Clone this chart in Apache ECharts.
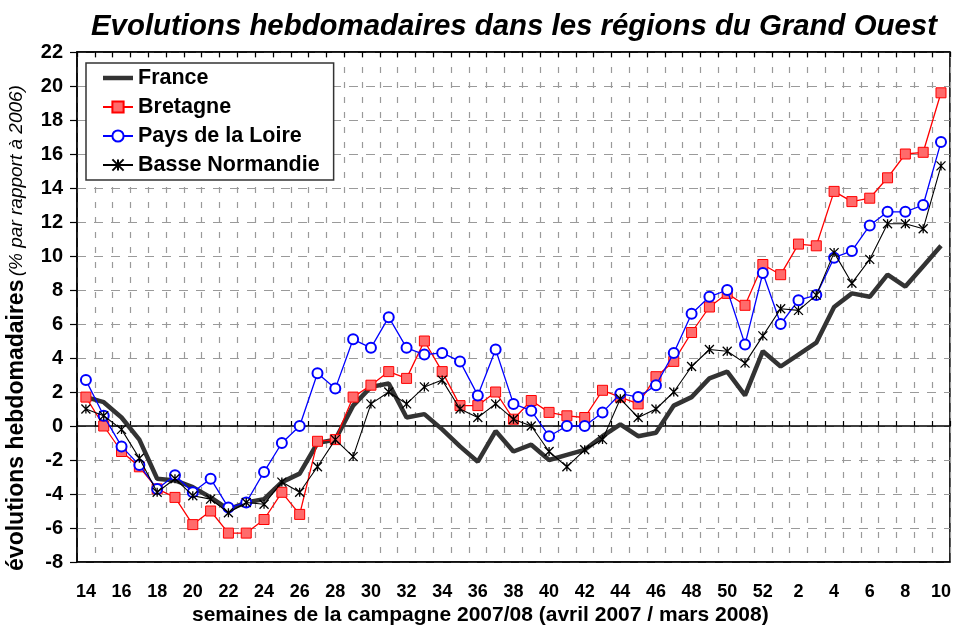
<!DOCTYPE html>
<html>
<head>
<meta charset="utf-8">
<script src="https://cdn.jsdelivr.net/npm/echarts@6/dist/echarts.min.js"></script>
<style>
  html, body { margin: 0; padding: 0; background: #fff; }
  #chart { width: 954px; height: 628px; }
</style>
</head>
<body>
<div id="chart"></div>
<script>
// semaines 14..52 (2007) puis 1..10 (2008)
const semaines = ['14','15','16','17','18','19','20','21','22','23','24','25','26','27','28','29','30','31','32','33','34','35','36','37','38','39','40','41','42','43','44','45','46','47','48','49','50','51','52','1','2','3','4','5','6','7','8','9','10'];

const france = [1.7, 1.4, 0.5, -0.8, -3.1, -3.2, -3.6, -4.2, -4.9, -4.5, -4.3, -3.3, -2.8, -1.0, -0.8, 1.2, 2.3, 2.5, 0.5, 0.7, -0.2, -1.2, -2.1, -0.3, -1.5, -1.1, -2.0, -1.7, -1.4, -0.6, 0.1, -0.6, -0.4, 1.2, 1.7, 2.8, 3.2, 1.8, 4.4, 3.5, 4.2, 4.9, 7.0, 7.8, 7.6, 8.9, 8.2, 9.4, 10.6];
const bretagne = [1.7, 0.0, -1.5, -2.4, -3.7, -4.2, -5.8, -5.0, -6.3, -6.3, -5.5, -3.9, -5.2, -0.9, -0.8, 1.7, 2.4, 3.2, 2.8, 5.0, 3.2, 1.2, 1.2, 2.0, 0.4, 1.5, 0.8, 0.6, 0.5, 2.1, 1.7, 1.3, 2.9, 3.8, 5.5, 7.0, 7.8, 7.1, 9.5, 8.9, 10.7, 10.6, 13.8, 13.2, 13.4, 14.6, 16.0, 16.1, 19.6];
const paysLoire = [2.7, 0.6, -1.2, -2.3, -3.7, -2.9, -3.9, -3.1, -4.8, -4.5, -2.7, -1.0, 0.0, 3.1, 2.2, 5.1, 4.6, 6.4, 4.6, 4.2, 4.3, 3.8, 1.8, 4.5, 1.3, 0.9, -0.6, 0.0, 0.0, 0.8, 1.9, 1.7, 2.4, 4.3, 6.6, 7.6, 8.0, 4.8, 9.0, 6.0, 7.4, 7.7, 9.9, 10.3, 11.8, 12.6, 12.6, 13.0, 16.7];
const basseNormandie = [1.0, 0.6, -0.2, -1.9, -3.9, -3.1, -4.1, -4.3, -5.1, -4.5, -4.6, -3.3, -3.9, -2.4, -0.8, -1.8, 1.3, 2.0, 1.3, 2.3, 2.7, 1.0, 0.5, 1.3, 0.4, 0.0, -1.5, -2.4, -1.4, -0.8, 1.6, 0.5, 1.0, 2.0, 3.5, 4.5, 4.4, 3.7, 5.3, 6.9, 6.8, 7.7, 10.2, 8.4, 9.8, 11.9, 11.9, 11.6, 15.3];

const police = '"Liberation Sans", Arial, sans-serif';
const grilleV = { show: true, lineStyle: { color: '#9a9a9a', width: 1.2, type: [6, 9] } };
const grilleH = { show: true, lineStyle: { color: '#9a9a9a', width: 1.2, type: [9, 8] } };

const chartDom = document.getElementById('chart');
const myChart = echarts.init(chartDom);

const option = {
  animation: false,
  backgroundColor: '#fff',
  title: [
    {
      text: 'Evolutions hebdomadaires dans les régions du Grand Ouest',
      left: 91, top: 12, padding: 0,
      textStyle: { fontFamily: police, fontSize: 29.4, fontWeight: 'bold', fontStyle: 'italic', color: '#000' }
    },
    {
      text: 'semaines de la campagne 2007/08 (avril 2007 / mars 2008)',
      left: 192, top: 605, padding: 0,
      textStyle: { fontFamily: police, fontSize: 21, fontWeight: 'bold', color: '#000' }
    }
  ],
  graphic: [{
    type: 'text',
    x: 17, y: 328,
    rotation: Math.PI / 2,
    style: {
      text: '{b|évolutions hebdomadaires} {i|(% par rapport à 2006)}',
      align: 'center',
      verticalAlign: 'middle',
      rich: {
        b: { fontFamily: police, fontSize: 23, fontWeight: 'bold', fill: '#000' },
        i: { fontFamily: police, fontSize: 19, fontStyle: 'italic', fill: '#000' }
      }
    }
  }],
  legend: {
    orient: 'vertical',
    left: 86, top: 63,
    padding: [4, 14, 4, 16],
    itemWidth: 30, itemHeight: 14, itemGap: 7,
    backgroundColor: '#fff',
    borderColor: '#333', borderWidth: 1.5,
    textStyle: { fontFamily: police, fontSize: 21.5, lineHeight: 20, fontWeight: 'bold', color: '#000' },
    data: [
      { name: 'France', icon: 'path://M0,0L30,0L30,4.5L0,4.5Z', itemStyle: { color: '#333' } },
      'Bretagne', 'Pays de la Loire', 'Basse Normandie'
    ]
  },
  grid: {
    left: 77, right: 4, top: 52, bottom: 66,
    show: true, borderColor: '#000', borderWidth: 1.5
  },
  xAxis: [
    {
      type: 'category', data: semaines, boundaryGap: true, position: 'bottom',
      axisLine: { onZero: false, lineStyle: { color: '#000', width: 1.5 } },
      axisTick: { show: false },
      axisLabel: { interval: 1, margin: 21, color: '#000', fontFamily: police, fontSize: 18, fontWeight: 'bold' },
      splitLine: Object.assign({ interval: 0 }, grilleV)
    },
    {
      type: 'category', data: semaines, boundaryGap: true,
      axisLine: { onZero: true, lineStyle: { color: '#000', width: 1.5 } },
      axisTick: { show: true, interval: 0, length: 5, lineStyle: { color: '#000', width: 1.2 } },
      axisLabel: { show: false }, splitLine: { show: false }
    },
    {
      type: 'category', data: semaines, boundaryGap: true,
      axisLine: { onZero: true, lineStyle: { color: '#000', width: 1.5 } },
      axisTick: { show: true, inside: true, interval: 0, length: 5, lineStyle: { color: '#000', width: 1.2 } },
      axisLabel: { show: false }, splitLine: { show: false }
    }
  ],
  yAxis: {
    type: 'value', min: -8, max: 22, interval: 2,
    axisLine: { show: true, lineStyle: { color: '#000', width: 1.5 } },
    axisTick: { show: true, length: 7, lineStyle: { color: '#000', width: 1.2 } },
    axisLabel: { margin: 14, color: '#000', fontFamily: police, fontSize: 20, fontWeight: 'bold' },
    splitLine: grilleH
  },
  series: [
    {
      name: 'France', type: 'line', data: france, xAxisIndex: 0,
      symbol: 'none', color: '#333',
      lineStyle: { color: '#333', width: 4.5 }, z: 3
    },
    {
      name: 'Bretagne', type: 'line', data: bretagne, xAxisIndex: 0,
      symbol: 'rect', symbolSize: 10, color: '#ff0000',
      itemStyle: { color: '#ff6b6b', borderColor: '#ff0000', borderWidth: 1 },
      lineStyle: { color: '#ff0000', width: 1.3 }, z: 4
    },
    {
      name: 'Pays de la Loire', type: 'line', data: paysLoire, xAxisIndex: 0,
      symbol: 'emptyCircle', symbolSize: 10, color: '#0000ff',
      itemStyle: { color: '#0000ff', borderColor: '#0000ff', borderWidth: 1.3 },
      lineStyle: { color: '#0000ff', width: 1.3 }, z: 5
    },
    {
      name: 'Basse Normandie', type: 'line', data: basseNormandie, xAxisIndex: 0,
      symbol: 'path://M0,0L10,10M10,0L0,10M5,0L5,10', symbolSize: 9, color: '#000',
      itemStyle: { color: '#000', borderColor: '#000', borderWidth: 1.3 },
      lineStyle: { color: '#000', width: 1.1 }, z: 6
    }
  ]
};

myChart.setOption(option);
</script>
</body>
</html>
